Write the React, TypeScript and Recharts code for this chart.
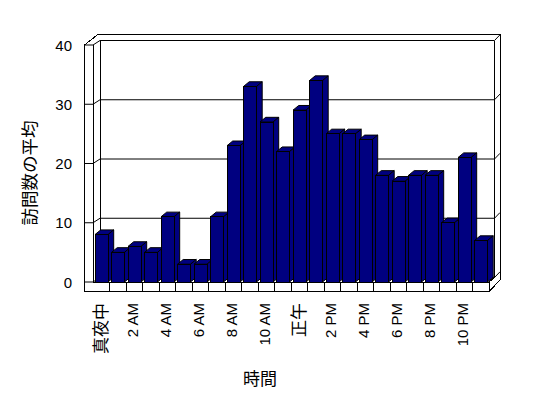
import { Bar, BarChart, CartesianGrid, XAxis, YAxis } from 'recharts'

const hours = [
  '真夜中', '1 AM', '2 AM', '3 AM', '4 AM', '5 AM', '6 AM', '7 AM', '8 AM', '9 AM', '10 AM', '11 AM',
  '正午', '1 PM', '2 PM', '3 PM', '4 PM', '5 PM', '6 PM', '7 PM', '8 PM', '9 PM', '10 PM', '11 PM',
]
const visits = [8, 5, 6, 5, 11, 3, 3, 11, 23, 33, 27, 22, 29, 34, 25, 25, 24, 18, 17, 18, 18, 10, 21, 7]
const yTicks = [0, 10, 20, 30, 40]

const data = hours.map((hour, i) => ({ hour, visits: visits[i] }))

// chart box and plot area (the front plane of the 3d box)
const W = 548
const H = 398
const margin = { top: 45, right: 59, bottom: 46, left: 33 }
const yAxisWidth = 60
const xAxisHeight = 70
const L = margin.left + yAxisWidth
const R = W - margin.right
const T = margin.top
const B = H - margin.bottom - xAxisHeight
const band = (R - L) / hours.length

// 3d look
const WALL = 8.5 // thickness of the left wall
const FLOOR = 9.7 // thickness of the floor
const DX = 7 // depth from front plane to back wall
const DY = -4.5
const BACK_R = R + 5.5
const OUTER_R = R + 11
const OUTER_T = T - 10.3

const LATIN = '"Liberation Sans", Arial, sans-serif'
const CJK = '"Noto Sans CJK JP", "Noto Sans", sans-serif'
const NAVY = '#000080'

function Frame() {
  const dividers = []
  for (let i = 1; i <= hours.length; i++) {
    const x = L + i * band
    dividers.push(<line key={i} x1={x} y1={B} x2={x} y2={B + FLOOR} />)
  }
  return (
    <g stroke="#000" strokeWidth={1} fill="none" shapeRendering="crispEdges">
      <polyline
        points={`${L - WALL},${B + FLOOR} ${L - WALL},${T} ${L + 4.6},${OUTER_T} ${OUTER_R},${OUTER_T} ${OUTER_R},${B - 2} ${R},${B + FLOOR} ${L - WALL},${B + FLOOR}`}
      />
      <line x1={L} y1={T} x2={L} y2={B} />
      <line x1={L} y1={B} x2={R} y2={B} />
      <line x1={R} y1={B} x2={BACK_R} y2={B + DY} />
      <line x1={L + DX} y1={T + DY} x2={L + DX} y2={B + DY} />
      <line x1={BACK_R} y1={T + DY} x2={BACK_R} y2={B + DY} />
      {dividers}
    </g>
  )
}

// tick on the left wall + gridline on the back wall
function GridLine(props: any) {
  const { y1, index } = props
  const back = y1 + DY
  return (
    <g key={`grid-${index}`}>
      {index === 0 && <Frame />}
      <polyline
        points={`${L - WALL},${y1} ${L},${y1} ${L + DX},${back} ${BACK_R},${back} ${OUTER_R},${back - 5.7}`}
        fill="none"
        stroke="#000"
        strokeWidth={1}
      />
    </g>
  )
}

function Bar3D(props: any) {
  const { x, y, width, height } = props
  if (!height || height <= 0) return null
  const dx = 5.7
  const dy = 4.7
  return (
    <g stroke="#000" strokeWidth={1} fill={NAVY}>
      <polygon points={`${x},${y} ${x + dx},${y - dy} ${x + width + dx},${y - dy} ${x + width},${y}`} />
      <polygon
        points={`${x + width},${y} ${x + width + dx},${y - dy} ${x + width + dx},${y + height - dy} ${x + width},${y + height}`}
      />
      <rect x={x} y={y} width={width} height={height} shapeRendering="crispEdges" />
    </g>
  )
}

function HourTick(props: any) {
  const { x, payload } = props
  const label = String(payload.value)
  const cjk = /[^\x00-\x7f]/.test(label)
  const size = cjk ? 17 : 15
  return (
    <g transform={`translate(${x - 1.5},${B + 21})`}>
      <text
        transform="rotate(-90)"
        textAnchor="end"
        dominantBaseline="central"
        fill="#000"
        style={{ fontSize: size, fontFamily: cjk ? CJK : LATIN }}
      >
        {label}
      </text>
    </g>
  )
}

function ValueTick(props: any) {
  const { y, payload } = props
  return (
    <text
      x={L - WALL - 12.5}
      y={y}
      textAnchor="end"
      dominantBaseline="central"
      fill="#000"
      style={{ fontSize: 15, fontFamily: LATIN }}
    >
      {payload.value}
    </text>
  )
}

function YTitle() {
  return (
    <text
      x={28}
      y={173}
      transform="rotate(-90 28 173)"
      textAnchor="middle"
      dominantBaseline="central"
      fill="#000"
      style={{ fontSize: 17.5, fontFamily: CJK }}
    >
      訪問数の平均
    </text>
  )
}

function XTitle() {
  return (
    <text x={260} y={377} textAnchor="middle" dominantBaseline="central" fill="#000" style={{ fontSize: 17, fontFamily: CJK }}>
      時間
    </text>
  )
}

export default function App() {
  return (
    <div style={{ position: 'absolute', left: 0, top: 0, width: W, height: H, background: '#fff' }}>
      <BarChart width={W} height={H} data={data} margin={margin}>
        <CartesianGrid horizontal={GridLine} vertical={false} />
        <XAxis
          dataKey="hour"
          interval={1}
          height={xAxisHeight}
          tickLine={false}
          axisLine={false}
          tick={HourTick}
          label={<XTitle />}
        />
        <YAxis
          width={yAxisWidth}
          domain={[0, 40]}
          ticks={yTicks}
          tickLine={false}
          axisLine={false}
          tick={ValueTick}
          label={<YTitle />}
        />
        <Bar dataKey="visits" barSize={13} shape={Bar3D} isAnimationActive={false} />
      </BarChart>
    </div>
  )
}
